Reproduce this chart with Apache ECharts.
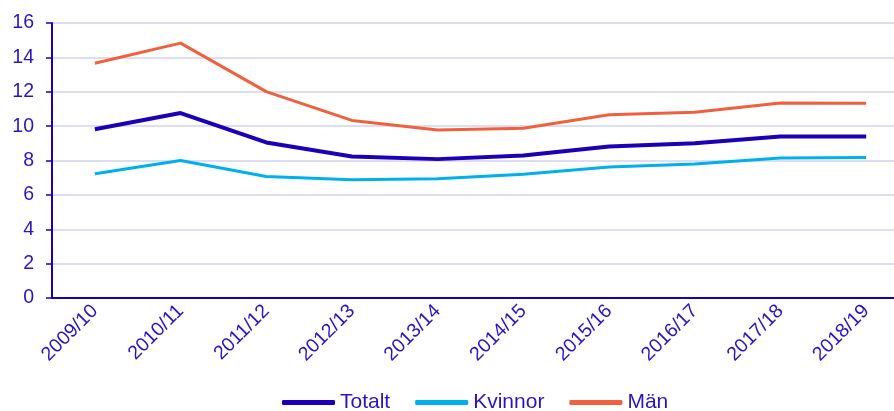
<!DOCTYPE html>
<html><head><meta charset="utf-8">
<script src="https://cdn.jsdelivr.net/npm/echarts@6/dist/echarts.min.js"></script>
<style>html,body{margin:0;padding:0;background:#fff;overflow:hidden;width:894px;height:411px}#c{width:909px;height:411px}</style>
</head><body><div id="c"></div>
<script>
const categories = ['2009/10','2010/11','2011/12','2012/13','2013/14','2014/15','2015/16','2016/17','2017/18','2018/19'];
const totalt = [9.82, 10.76, 9.05, 8.23, 8.08, 8.29, 8.82, 9.0, 9.4, 9.4];
const kvinnor = [7.23, 8.0, 7.07, 6.88, 6.94, 7.2, 7.62, 7.79, 8.15, 8.17];
const man = [13.66, 14.83, 12.01, 10.33, 9.78, 9.88, 10.66, 10.81, 11.34, 11.33];
const yTicks = [0, 2, 4, 6, 8, 10, 12, 14, 16];

const axisBlue = '#1a00b8';
const textBlue = '#2a14c0';
const font = 'Liberation Sans, Arial, sans-serif';

const chart = echarts.init(document.getElementById('c'), null, {renderer: 'canvas'});
chart.setOption({
  animation: false,
  grid: {left: 52, right: 0, top: 23, bottom: 113, containLabel: false},
  legend: {
    top: 387, left: 277,
    itemWidth: 53, itemHeight: 5, itemGap: 25,
    icon: 'roundRect',
    textStyle: {color: textBlue, fontSize: 21, fontFamily: font},
    data: ['Totalt', 'Kvinnor', 'Män']
  },
  xAxis: {
    type: 'category', data: categories, boundaryGap: true,
    axisLine: {lineStyle: {color: axisBlue, width: 2}},
    axisTick: {alignWithLabel: true, length: 5, lineStyle: {color: axisBlue, width: 1.5}},
    axisLabel: {rotate: 45, color: textBlue, fontSize: 19.5, fontFamily: font, margin: 10, interval: 0}
  },
  yAxis: {
    type: 'value', min: yTicks[0], max: yTicks[yTicks.length-1], interval: 2,
    axisLine: {show: true, lineStyle: {color: axisBlue, width: 2}},
    axisTick: {show: true, length: 6, lineStyle: {color: axisBlue, width: 1.5}},
    axisLabel: {color: textBlue, fontSize: 19.5, fontFamily: font, margin: 18},
    splitLine: {lineStyle: {color: '#d3d3ee', width: 1.5}}
  },
  series: [
    {name: 'Totalt', type: 'line', data: totalt, symbol: 'none', lineStyle: {color: '#1c00b6', width: 4}, itemStyle: {color: '#1c00b6'}, z: 3},
    {name: 'Kvinnor', type: 'line', data: kvinnor, symbol: 'none', lineStyle: {color: '#00b0ec', width: 3}, itemStyle: {color: '#00b0ec'}, z: 2},
    {name: 'Män', type: 'line', data: man, symbol: 'none', lineStyle: {color: '#f0603e', width: 3}, itemStyle: {color: '#f0603e'}, z: 2}
  ]
});
</script></body></html>
